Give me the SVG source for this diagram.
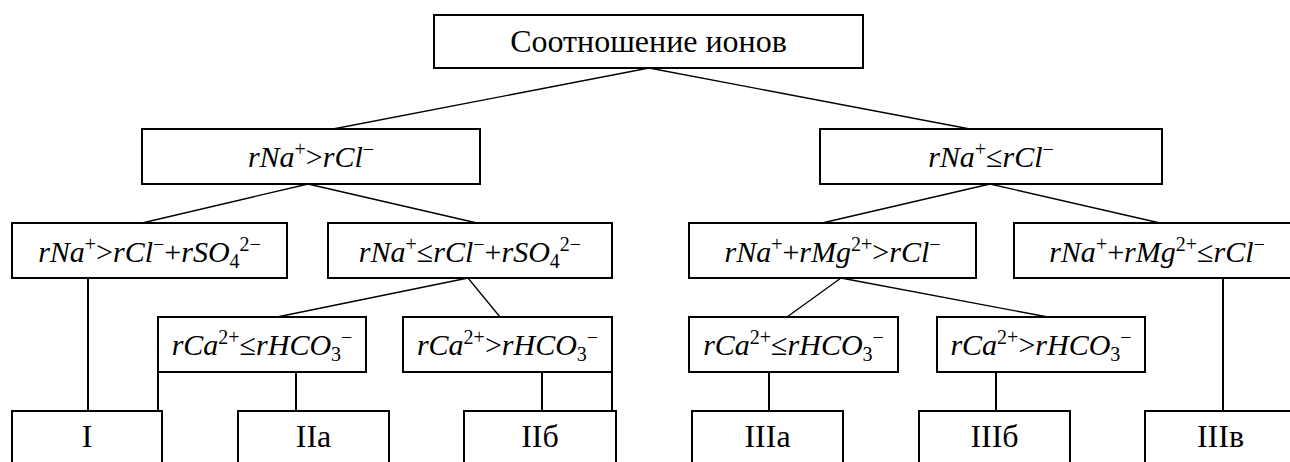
<svg xmlns="http://www.w3.org/2000/svg" width="1290" height="462" viewBox="0 0 1290 462" font-family="'Liberation Serif', 'Times New Roman', 'DejaVu Serif', serif">
<style>
.box{fill:#fff;stroke:#000;stroke-width:2}
.ln{stroke:#000;stroke-width:1.3;fill:none}
.vl{stroke:#000;stroke-width:2;fill:none}
text{font-family:'Liberation Serif','Times New Roman','DejaVu Serif',serif;font-size:30px;fill:#000;text-anchor:middle}
.t0{font-size:32px}
.t4{font-size:32px}
.i{font-style:italic}
.s{font-size:20px}
</style>
<rect width="1290" height="462" fill="#fff"/>
<g id="connectors">
<line class="ln" x1="649" y1="68" x2="333" y2="129"/>
<line class="ln" x1="649" y1="68" x2="970" y2="129"/>
<line class="ln" x1="308" y1="184" x2="142" y2="223"/>
<line class="ln" x1="308" y1="184" x2="477" y2="223"/>
<line class="ln" x1="990" y1="184" x2="822" y2="223"/>
<line class="ln" x1="990" y1="184" x2="1160" y2="223"/>
<line class="vl" x1="88" y1="278" x2="88" y2="411"/>
<line class="ln" x1="468" y1="278" x2="277" y2="317"/>
<line class="ln" x1="468" y1="278" x2="500" y2="317"/>
<line class="ln" x1="841" y1="278" x2="787" y2="317"/>
<line class="ln" x1="841" y1="278" x2="1048" y2="317"/>
<line class="vl" x1="1223" y1="278" x2="1223" y2="411"/>
<line class="vl" x1="158" y1="372" x2="158" y2="411"/>
<line class="vl" x1="296" y1="372" x2="296" y2="411"/>
<line class="vl" x1="542" y1="372" x2="542" y2="411"/>
<line class="vl" x1="612" y1="372" x2="612" y2="411"/>
<line class="vl" x1="769" y1="372" x2="769" y2="411"/>
<line class="vl" x1="996" y1="372" x2="996" y2="411"/>
</g>
<g id="n-root"><rect class="box" x="434" y="15" width="429" height="53"/><text class="t0" x="648.5" y="52">Соотношение ионов</text></g>
<g id="n-l2a"><rect class="box" x="142" y="129" width="338" height="55"/><text x="311" y="167"><tspan class="i">rNa</tspan><tspan class="s" dy="-11">+</tspan><tspan dy="11">&gt;</tspan><tspan class="i">rCl</tspan><tspan class="s" dy="-11">−</tspan></text></g>
<g id="n-l2b"><rect class="box" x="820" y="129" width="342" height="55"/><text x="991" y="167"><tspan class="i">rNa</tspan><tspan class="s" dy="-11">+</tspan><tspan dy="11">≤</tspan><tspan class="i">rCl</tspan><tspan class="s" dy="-11">−</tspan></text></g>
<g id="n-l3a"><rect class="box" x="12" y="223" width="275" height="55"/><text x="149.5" y="262"><tspan class="i">rNa</tspan><tspan class="s" dy="-11">+</tspan><tspan dy="11">&gt;</tspan><tspan class="i">rCl</tspan><tspan class="s" dy="-11">−</tspan><tspan dy="11">+</tspan><tspan class="i">rSO</tspan><tspan class="s" dy="6">4</tspan><tspan class="s" dy="-17">2−</tspan></text></g>
<g id="n-l3b"><rect class="box" x="328" y="223" width="284" height="55"/><text x="470" y="262"><tspan class="i">rNa</tspan><tspan class="s" dy="-11">+</tspan><tspan dy="11">≤</tspan><tspan class="i">rCl</tspan><tspan class="s" dy="-11">−</tspan><tspan dy="11">+</tspan><tspan class="i">rSO</tspan><tspan class="s" dy="6">4</tspan><tspan class="s" dy="-17">2−</tspan></text></g>
<g id="n-l3c"><rect class="box" x="689" y="223" width="287" height="55"/><text x="832.5" y="262"><tspan class="i">rNa</tspan><tspan class="s" dy="-11">+</tspan><tspan dy="11">+</tspan><tspan class="i">rMg</tspan><tspan class="s" dy="-11">2+</tspan><tspan dy="11">&gt;</tspan><tspan class="i">rCl</tspan><tspan class="s" dy="-11">−</tspan></text></g>
<g id="n-l3d"><rect class="box" x="1014" y="223" width="286" height="55"/><text x="1157" y="262"><tspan class="i">rNa</tspan><tspan class="s" dy="-11">+</tspan><tspan dy="11">+</tspan><tspan class="i">rMg</tspan><tspan class="s" dy="-11">2+</tspan><tspan dy="11">≤</tspan><tspan class="i">rCl</tspan><tspan class="s" dy="-11">−</tspan></text></g>
<g id="n-l4a"><rect class="box" x="158" y="317" width="208" height="55"/><text x="262" y="355"><tspan class="i">rCa</tspan><tspan class="s" dy="-11">2+</tspan><tspan dy="11">≤</tspan><tspan class="i">rHCO</tspan><tspan class="s" dy="6">3</tspan><tspan class="s" dy="-17">−</tspan></text></g>
<g id="n-l4b"><rect class="box" x="403" y="317" width="209" height="55"/><text x="507.5" y="355"><tspan class="i">rCa</tspan><tspan class="s" dy="-11">2+</tspan><tspan dy="11">&gt;</tspan><tspan class="i">rHCO</tspan><tspan class="s" dy="6">3</tspan><tspan class="s" dy="-17">−</tspan></text></g>
<g id="n-l4c"><rect class="box" x="689" y="317" width="209" height="55"/><text x="793.5" y="355"><tspan class="i">rCa</tspan><tspan class="s" dy="-11">2+</tspan><tspan dy="11">≤</tspan><tspan class="i">rHCO</tspan><tspan class="s" dy="6">3</tspan><tspan class="s" dy="-17">−</tspan></text></g>
<g id="n-l4d"><rect class="box" x="937" y="317" width="208" height="55"/><text x="1041" y="355"><tspan class="i">rCa</tspan><tspan class="s" dy="-11">2+</tspan><tspan dy="11">&gt;</tspan><tspan class="i">rHCO</tspan><tspan class="s" dy="6">3</tspan><tspan class="s" dy="-17">−</tspan></text></g>
<g id="n-I"><rect class="box" x="12" y="411" width="150" height="80"/><text class="t4" x="87" y="447">I</text></g>
<g id="n-IIa"><rect class="box" x="238" y="411" width="151" height="80"/><text class="t4" x="313.5" y="447">IIa</text></g>
<g id="n-IIb"><rect class="box" x="464" y="411" width="152" height="80"/><text class="t4" x="540" y="447">IIб</text></g>
<g id="n-IIIa"><rect class="box" x="692" y="411" width="151" height="80"/><text class="t4" x="767.5" y="447">IIIa</text></g>
<g id="n-IIIb"><rect class="box" x="919" y="411" width="151" height="80"/><text class="t4" x="994.5" y="447">IIIб</text></g>
<g id="n-IIIv"><rect class="box" x="1145" y="411" width="151" height="80"/><text class="t4" x="1220.5" y="447">IIIв</text></g>
</svg>
